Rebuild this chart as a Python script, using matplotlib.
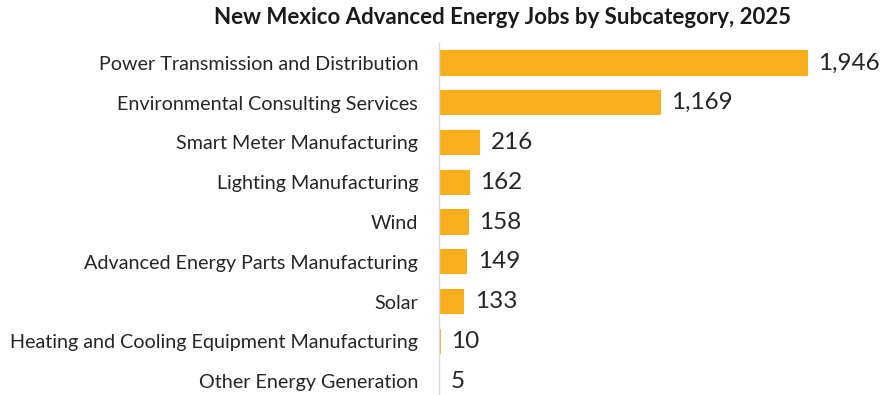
import matplotlib
matplotlib.use("Agg")
import matplotlib.pyplot as plt

categories = [
    "Power Transmission and Distribution",
    "Environmental Consulting Services",
    "Smart Meter Manufacturing",
    "Lighting Manufacturing",
    "Wind",
    "Advanced Energy Parts Manufacturing",
    "Solar",
    "Heating and Cooling Equipment Manufacturing",
    "Other Energy Generation",
]
jobs = [1946, 1169, 216, 162, 158, 149, 133, 10, 5]

plt.rcParams["font.family"] = ["Lato", "DejaVu Sans"]

fig = plt.figure(figsize=(8.81, 3.95), dpi=100)
ax = fig.add_axes([439 / 881, 0, 1 - 439 / 881, (395 - 43) / 395])

pos = list(range(len(categories)))
ax.barh(pos, jobs, height=0.63, color="#F9AE1C")
ax.set_ylim(len(categories) - 1 + 0.352, -0.503)
ax.set_xlim(0, 2331)

for p, v in zip(pos, jobs):
    ax.text(v + 55, p, f"{v:,}", va="center", ha="left", fontsize=17.5, color="#262626")

ax.set_yticks(pos)
ax.set_yticklabels(categories, fontsize=14.2, color="#262626")
ax.tick_params(axis="y", length=0, pad=15)
ax.set_xticks([])
for s in ["top", "right", "bottom"]:
    ax.spines[s].set_visible(False)
ax.spines["left"].set_color("#D9D9D9")
ax.spines["left"].set_linewidth(1)

fig.text(502 / 881, 1 - 18 / 395, "New Mexico Advanced Energy Jobs by Subcategory, 2025",
         ha="center", va="center", fontsize=16, fontweight="bold", color="#1a1a1a")

fig.savefig("out.png", dpi=100)
